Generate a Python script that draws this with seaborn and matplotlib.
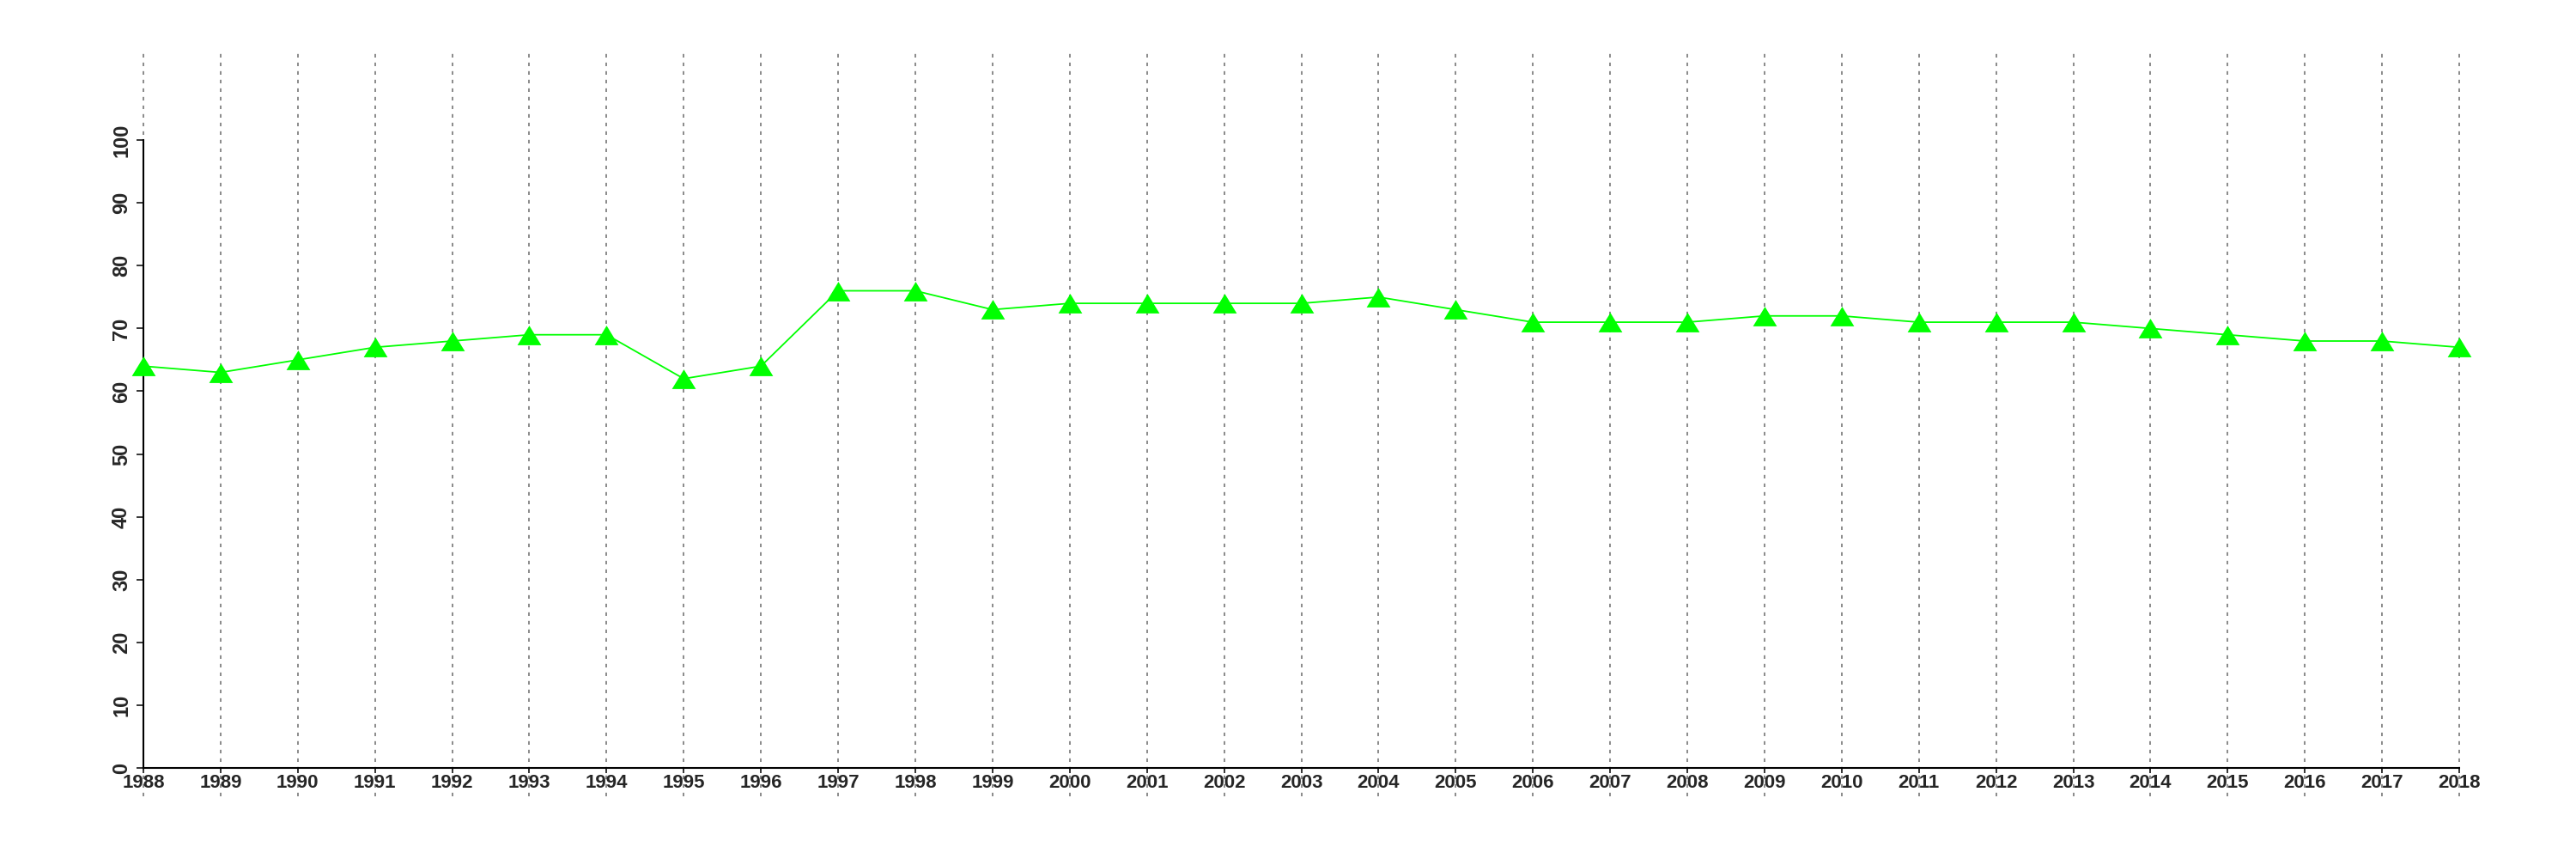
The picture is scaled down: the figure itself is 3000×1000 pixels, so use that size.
import matplotlib
matplotlib.use("Agg")
import matplotlib.pyplot as plt
import seaborn as sns
import pandas as pd

years = list(range(1988, 2019))
values = [64, 63, 65, 67, 68, 69, 69, 62, 64, 76,
          76, 73, 74, 74, 74, 74, 75, 73, 71, 71,
          71, 72, 72, 71, 71, 71, 70, 69, 68, 68, 67]
y_ticks = list(range(0, 101, 10))

df = pd.DataFrame({"year": years, "value": values})

sns.set_style("white")
plt.rcParams['font.family'] = ['Liberation Sans', 'DejaVu Sans']

fig = plt.figure(figsize=(30, 10), dpi=100)
ax = fig.add_axes([158 / 3000, 0.073, (2873 - 158) / 3000, 0.94 - 0.073])

# flattened triangle marker
tri = [(-1, -0.82), (1, -0.82), (0, 0.82), (-1, -0.82)]
sns.lineplot(data=df, x="year", y="value", ax=ax, color="#00ff00",
             linewidth=1.3, marker=tri, markersize=20, markeredgewidth=0,
             markerfacecolor="#00ff00", clip_on=False, zorder=3)

# spines first (set_position resets tick label settings)
for s in ['top', 'right']:
    ax.spines[s].set_visible(False)
ax.spines['left'].set_position(('data', years[0]))
ax.spines['left'].set_bounds(0, 100)
ax.spines['bottom'].set_position(('data', 0))
ax.spines['bottom'].set_bounds(years[0], years[-1])
for s in ['left', 'bottom']:
    ax.spines[s].set_linewidth(1.5)
    ax.spines[s].set_color('black')

ax.set_xlim(1987.9, 2018.1)
ax.set_ylim(-4.5, 114.1)
ax.set_xticks(years)
ax.set_yticks(y_ticks)
ax.set_xticklabels([str(y) for y in years])
ax.set_yticklabels([str(v) for v in y_ticks], rotation=90, va='center')
ax.set_xlabel("")
ax.set_ylabel("")

ax.grid(axis='x', color='#777777', linewidth=1.2, linestyle=(0, (2.5, 3.5)))
ax.grid(axis='y', visible=False)

ax.tick_params(axis='y', direction='out', length=6, width=1.3, pad=4, left=True,
               labelsize=17)
ax.tick_params(axis='x', direction='out', length=4, width=1.3, pad=1, bottom=True,
               labelsize=16)
for lab in ax.get_xticklabels() + ax.get_yticklabels():
    lab.set_fontweight('bold')

fig.savefig("out.png", dpi=100)
